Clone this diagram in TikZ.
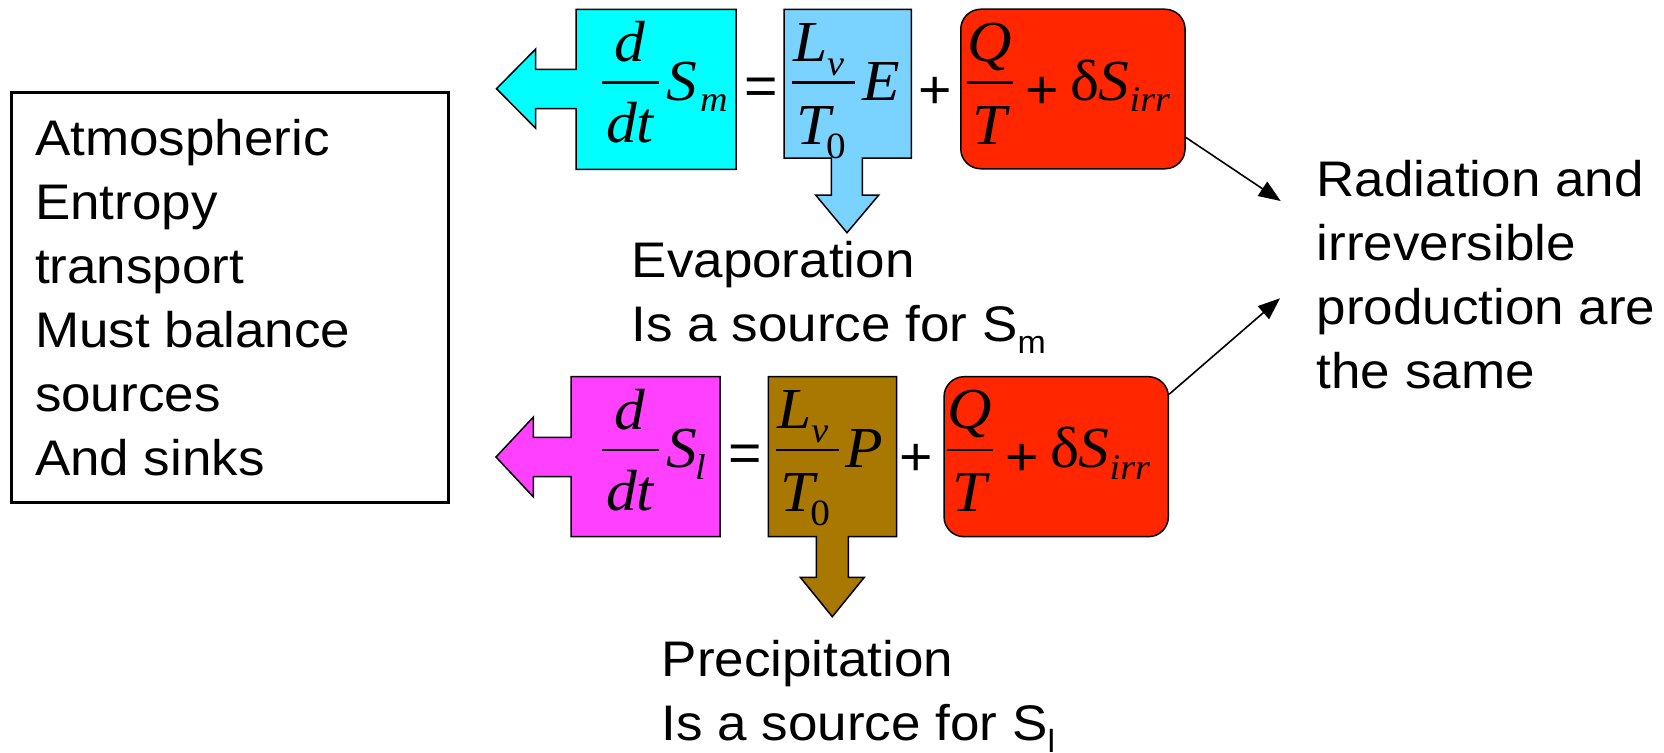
\documentclass[tikz,border=0pt]{standalone}
\usepackage{fontspec}
\setmainfont{Liberation Sans}[FakeStretch=1.06]
\newfontfamily\tms{Liberation Serif}[FakeStretch=1.06]
\usetikzlibrary{arrows.meta}

\definecolor{cyanfill}{RGB}{0,255,255}
\definecolor{skyfill}{RGB}{122,211,255}
\definecolor{magfill}{RGB}{255,64,255}
\definecolor{brownfill}{RGB}{168,120,0}
\definecolor{redfill}{RGB}{255,38,0}

\newcommand{\eqbig}{\tms\itshape\fontsize{58}{58}\selectfont}
\newcommand{\eqsub}{\tms\itshape\fontsize{36}{36}\selectfont}
\newcommand{\eqsubup}{\tms\upshape\fontsize{37}{37}\selectfont}
\newcommand{\eqop}{\fontsize{54}{54}\selectfont}
\newcommand{\txtbody}{\fontsize{50}{64}\selectfont}
\newcommand{\txtsub}{\fontsize{32}{32}\selectfont}

\tikzset{
  glyph/.style={inner sep=0pt, outer sep=0pt, anchor=base west},
  glyphc/.style={inner sep=0pt, outer sep=0pt, anchor=base},
  shapeline/.style={draw=black, line width=1.5pt, line join=miter},
  fracbar/.style={line width=2.5pt},
  redbox/.style={draw=black, fill=redfill, line width=1.5pt, rounded corners=20pt,
    inner sep=0pt, minimum width=224.3pt, minimum height=159.5pt},
  pointer/.style={line width=1.6pt, -{Triangle[length=22pt,width=17pt]}},
  txt/.style={inner sep=0pt, outer sep=0pt, align=left, font=\txtbody, anchor=base west}
}

\begin{document}
\begin{tikzpicture}[x=1pt,y=-1pt]
\useasboundingbox (0,0) rectangle (1664,752);

% ---------- left text box (text anchored at its last baseline) ----------
\node[draw, line width=3pt, minimum width=436.6pt, minimum height=410.4pt, inner sep=0pt] (leftbox) at (230,297.5) {};
\node[txt] (lefttext) at (35,475) {Atmospheric\\Entropy\\transport\\Must balance\\sources\\And sinks};

% ---------- top row shapes ----------
\path[shapeline, fill=cyanfill] (576,9.3) -- (736,9.3) -- (736,169.3) -- (576,169.3) -- (576,108.7)
  -- (535.7,108.7) -- (535.7,128.3) -- (496.5,88.7) -- (535.7,49) -- (535.7,69.3) -- (576,69.3) -- cycle;
\path[shapeline, fill=skyfill] (784,9.3) -- (911.4,9.3) -- (911.4,158) -- (862.3,158) -- (862.3,195)
  -- (878.8,195) -- (847,232.7) -- (815.6,195) -- (831.3,195) -- (831.3,158) -- (784,158) -- cycle;
\node[redbox] (redtop) at (1072.9,89) {};

% ---------- top row equation ----------
\node[glyphc] (dnumA) at (630,61.7) {\eqbig d};
\draw[fracbar] (601.7,82.7) -- (659.3,82.7);
\node[glyphc] (ddenA) at (630,142.7) {\eqbig dt};
\node[glyph] (sA) at (666,100) {\eqbig S};
\node[glyph] (subA) at (700,111.7) {\eqsub m};
\node[glyphc] (eqA) at (761,104) {\eqop =};
\node[glyph] (lA) at (793,61) {\eqbig L};
\node[glyph] (vA) at (827,75) {\eqsub v};
\draw[fracbar] (791.7,82.7) -- (855,82.7);
\node[glyph] (tA) at (796,144) {\eqbig T};
\node[glyph] (zA) at (826,158.3) {\eqsubup 0};
\node[glyph] (eA) at (862,100) {\eqbig E};
\node[glyphc] (plusA) at (935,108) {\eqop +};
\node[glyphc] (qA) at (990,61) {\eqbig Q};
\draw[fracbar] (966.7,82.7) -- (1013.3,82.7);
\node[glyphc] (qtA) at (990,144) {\eqbig T};
\node[glyphc] (plusA2) at (1041.7,108) {\eqop +};
\node[glyph] (dsA) at (1070,100) {\eqbig\upshape δ\itshape S\raisebox{-11.7pt}{\eqsub irr}};

\node[txt] (evap) at (631.7,341.7) {Evaporation\\Is a source for S\raisebox{-11.3pt}{\txtsub m}};

% ---------- bottom row shapes ----------
\path[shapeline, fill=magfill] (571,376.7) -- (720,376.7) -- (720,536.7) -- (571,536.7) -- (571,476.7)
  -- (533.4,476.7) -- (533.4,497) -- (496,457) -- (533.4,417) -- (533.4,437.3) -- (571,437.3) -- cycle;
\path[shapeline, fill=brownfill] (768.3,376.7) -- (896.7,376.7) -- (896.7,536.7) -- (848.3,536.7) -- (848.3,577.3)
  -- (864.3,577.3) -- (832.3,616.7) -- (800.3,577.3) -- (816.3,577.3) -- (816.3,536.7) -- (768.3,536.7) -- cycle;
\node[redbox, minimum height=160pt] (redbot) at (1056.2,456.7) {};

% ---------- bottom row equation ----------
\node[glyphc] (dnumB) at (630,429.1) {\eqbig d};
\draw[fracbar] (601.7,450.1) -- (659.3,450.1);
\node[glyphc] (ddenB) at (630,510.1) {\eqbig dt};
\node[glyph] (sB) at (666,467.4) {\eqbig S};
\node[glyph] (subB) at (695,479) {\eqsub l};
\node[glyphc] (eqB) at (745.6,471.7) {\eqop =};
\node[glyph] (lB) at (777.3,428.4) {\eqbig L};
\node[glyph] (vB) at (811.3,442.4) {\eqsub v};
\draw[fracbar] (776,450.1) -- (839.3,450.1);
\node[glyph] (tB) at (780.3,511.4) {\eqbig T};
\node[glyph] (zB) at (810.3,525.7) {\eqsubup 0};
\node[glyph] (pB) at (845,467.4) {\eqbig P};
\node[glyphc] (plusB) at (916.3,475) {\eqop +};
\node[glyphc] (qB) at (969.7,428.4) {\eqbig Q};
\draw[fracbar] (946.7,450.1) -- (992.7,450.1);
\node[glyphc] (qtB) at (969.7,511.4) {\eqbig T};
\node[glyphc] (plusB2) at (1021.7,475) {\eqop +};
\node[glyph] (dsB) at (1050,467.4) {\eqbig\upshape δ\itshape S\raisebox{-11.7pt}{\eqsub irr}};

\node[txt] (precip) at (661.7,740.7) {Precipitation\\Is a source for S\raisebox{-11.3pt}{\txtsub l}};

% ---------- right text and pointers ----------
\node[txt] (radtext) at (1316.7,388.3) {Radiation and\\irreversible\\production are\\the same};
\coordinate (tipA) at (1280.7,201);
\coordinate (tipB) at (1280,298.3);
\draw[pointer] ([yshift=32.1pt]redtop.south east) -- (tipA);
\draw[pointer] ([yshift=-18.3pt]redbot.north east) -- (tipB);
\end{tikzpicture}
\end{document}
